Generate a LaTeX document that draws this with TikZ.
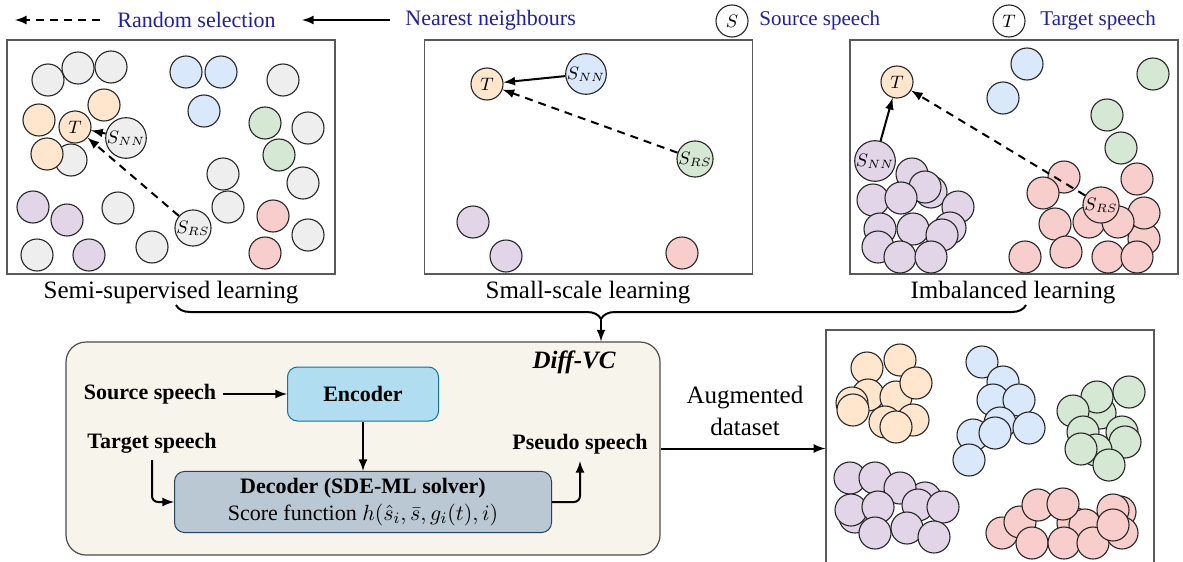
\documentclass[tikz,border=0pt]{standalone}
\usepackage{fontspec}
\setmainfont{Liberation Serif}
\usepackage{amsmath}
\usepackage{xcolor}
\usepackage{tikz}
\usetikzlibrary{arrows}
\usetikzlibrary{decorations.pathreplacing}

\definecolor{cgrey}{HTML}{EEEEEE}
\definecolor{corange}{HTML}{FFE6CC}
\definecolor{cblue}{HTML}{DAE8FC}
\definecolor{cgreen}{HTML}{D5E8D4}
\definecolor{cpurple}{HTML}{E1D5E7}
\definecolor{cred}{HTML}{F8CECC}
\definecolor{legblue}{RGB}{30,30,170}
\definecolor{diffbg}{HTML}{F7F4EC}
\definecolor{encfill}{HTML}{B1DDF0}
\definecolor{encline}{HTML}{10739E}
\definecolor{decfill}{HTML}{BAC8D3}
\definecolor{decline}{HTML}{23445D}

\tikzset{
  ball/.style={circle, draw=black!85, line width=0.55pt, minimum size=16pt, inner sep=0pt, font=\fontsize{9}{9}\selectfont},
  ballgrey/.style={ball, fill=cgrey},
  ballorange/.style={ball, fill=corange},
  ballblue/.style={ball, fill=cblue},
  ballgreen/.style={ball, fill=cgreen},
  ballpurple/.style={ball, fill=cpurple},
  ballred/.style={ball, fill=cred},
  panel/.style={rectangle, draw=black!65, line width=0.7pt, minimum width=164pt, minimum height=117pt, inner sep=0pt},
  nn/.style={-latex, line width=1pt},
  rs/.style={-latex, line width=1pt, dash pattern=on 4pt off 3pt},
  lbl/.style={font=\bfseries\fontsize{11}{13}\selectfont},
  captxt/.style={font=\fontsize{12.5}{15}\selectfont},
  legtxt/.style={anchor=west, inner sep=0pt, text=legblue, font=\fontsize{11}{13}\selectfont},
}

\begin{document}
\begin{tikzpicture}[x=0.5pt, y=-0.5pt]
\useasboundingbox (0,0) rectangle (1183,562);
\clip (0,0) rectangle (1183,562);

% legend
\coordinate (rs0) at (100,20);
\coordinate (rs1) at (15,20);
\draw [rs] (rs0) -- (rs1);
\node [legtxt] (legrs) at (117,20) {Random selection};
\coordinate (nn0) at (390,20);
\coordinate (nn1) at (302,20);
\draw [nn] (nn0) -- (nn1);
\node [legtxt] (legnn) at (405,20) {Nearest neighbours};
\node [ball, fill=white] (legS) at (732,21) {$S$};
\node [legtxt, font=\fontsize{10.5}{13}\selectfont] (legsrc) at (759,20) {Source speech};
\node [ball, fill=white] (legT) at (1009,21) {$T$};
\node [legtxt, font=\fontsize{10.5}{13}\selectfont] (legtgt) at (1040,20) {Target speech};

% panels
\node [panel] (p1) at (171,157) {};
\node [panel] (p2) at (588.5,157) {};
\node [panel] (p3) at (1014,157) {};
\node [captxt] (c1) at (171,293) {Semi-supervised learning};
\node [captxt] (c2) at (588,293) {Small-scale learning};
\node [captxt] (c3) at (1013,293) {Imbalanced learning};

% semi-supervised
\foreach \x/\y [count=\i] in {48/80, 78/68, 111/67, 283/80, 308/128, 71/160, 223/174, 228/207, 118/208, 37/255, 152/247, 303/183, 308/235}
  \node [ballgrey] (ga\i) at (\x,\y) {};
\foreach \x/\y [count=\i] in {39/120, 104/105, 47/154}
  \node [ballorange] (oa\i) at (\x,\y) {};
\foreach \x/\y [count=\i] in {186/72, 221/72, 204/111}
  \node [ballblue] (ba\i) at (\x,\y) {};
\foreach \x/\y [count=\i] in {265/123, 279/155}
  \node [ballgreen] (gna\i) at (\x,\y) {};
\foreach \x/\y [count=\i] in {33/207, 67/220, 89/255}
  \node [ballpurple] (pa\i) at (\x,\y) {};
\foreach \x/\y [count=\i] in {273/216, 265/253}
  \node [ballred] (ra\i) at (\x,\y) {};
\node [ballorange] (T1) at (75,127) {$T$};
\node [ballgrey] (NN1) at (126,138) {$S_{NN}$};
\node [ballgrey] (RS1) at (193,228) {$S_{RS}$};
\draw [nn] (NN1) to (T1);
\draw [rs] (RS1) to (T1);

% small-scale
\node [ballpurple] (pb1) at (473,222) {};
\node [ballpurple] (pb2) at (506,256) {};
\node [ballred] (rb1) at (682,253) {};
\node [ballorange] (T2) at (487,84) {$T$};
\node [ballblue] (NN2) at (586,74) {$S_{NN}$};
\node [ballgreen] (RS2) at (695,159) {$S_{RS}$};
\draw [nn] (NN2) to (T2);
\draw [rs] (RS2) to (T2);

% imbalanced
\foreach \x/\y [count=\i] in {1027/64, 1003/98}
  \node [ballblue] (bc\i) at (\x,\y) {};
\foreach \x/\y [count=\i] in {1153/74, 1107/115, 1121/148}
  \node [ballgreen] (gnc\i) at (\x,\y) {};
\foreach \x/\y [count=\i] in {1064/177, 1043/193, 1137/179, 1144/239, 1144/213, 1055/224, 1089/222, 1118/222, 1025/257, 1066/252, 1108/257, 1137/257}
  \node [ballred] (rc\i) at (\x,\y) {};
\foreach \x/\y [count=\i] in {912/174, 931/192, 925/187, 873/200, 901/198, 958/207, 880/229, 913/229, 950/228, 942/235, 878/247, 900/257, 931/257}
  \node [ballpurple] (pc\i) at (\x,\y) {};
\node [ballorange] (T3) at (897,82) {$T$};
\node [ballpurple] (NN3) at (875,161) {$S_{NN}$};
\node [ballred] (RS3) at (1101,205) {$S_{RS}$};
\draw [nn] (NN3) to (T3);
\draw [rs] (RS3) to (T3);

% brace to Diff-VC
\coordinate (bl) at (176,305);
\coordinate (br) at (1026,305);
\draw [line width=1pt, decorate, decoration={brace, mirror, amplitude=7pt}] (bl) -- (br);
\coordinate (bt) at (601,319);

% Diff-VC
\node [rectangle, rounded corners=10pt, fill=diffbg, draw=black!70, line width=0.6pt, minimum width=297pt, minimum height=106.5pt] (diffvc) at (363,448.5) {};
\draw [nn] (bt) -- (bt |- diffvc.north);
\node [font=\bfseries\itshape\fontsize{12.5}{15}\selectfont] (dvc) at (574,362) {Diff-VC};
\node [rectangle, rounded corners=5pt, fill=encfill, draw=encline, line width=0.5pt, minimum width=75.5pt, minimum height=27pt, lbl] (enc) at (363,394) {Encoder};
\node [rectangle, rounded corners=5pt, fill=decfill, draw=decline, line width=0.5pt, minimum width=188.5pt, minimum height=30pt, align=center, font=\fontsize{11}{13.5}\selectfont] (dec) at (363,502) {\textbf{Decoder (SDE-ML solver)}\\Score function $h(\hat{s}_i, \bar{s}, g_i(t), i)$};
\node [lbl] (src) at (150,394) {Source speech};
\node [lbl] (tgt) at (152,443) {Target speech};
\node [lbl] (pse) at (580,444) {Pseudo speech};
\draw [nn] (src) -- (enc);
\draw [nn] (enc) -- (dec);
\draw [nn, rounded corners=3pt] (tgt.south) |- (dec.west);
\draw [nn, rounded corners=3pt] (dec.east) -| (pse.south);

% augmented dataset
\node [panel, minimum height=135pt] (aug) at (990,465) {};
\draw [nn] (diffvc.east) -- (diffvc.east -| aug.west);
\node [align=center, font=\fontsize{12.5}{16}\selectfont] (augtxt) at (745,411) {Augmented\\dataset};
\foreach \x/\y [count=\i] in {867/368, 900/360, 868/395, 852/403, 896/397, 916/383, 913/420, 885/422, 853/410, 896/427}
  \node [ballorange] (od\i) at (\x,\y) {};
\foreach \x/\y [count=\i] in {982/362, 1003/382, 993/400, 1019/400, 1000/423, 973/435, 995/433, 1029/428, 969/460}
  \node [ballblue] (bd\i) at (\x,\y) {};
\foreach \x/\y [count=\i] in {1100/413, 1097/397, 1129/392, 1073/411, 1083/432, 1122/432, 1125/442, 1096/450, 1081/449, 1109/465}
  \node [ballgreen] (gnd\i) at (\x,\y) {};
\foreach \x/\y [count=\i] in {850/478, 875/478, 925/498, 900/488, 855/517, 851/510, 878/507, 918/505, 943/507, 875/533, 907/528, 934/537}
  \node [ballpurple] (pd\i) at (\x,\y) {};
\foreach \x/\y [count=\i] in {1002/533, 1020/522, 1038/505, 1073/523, 1085/525, 1063/504, 1032/543, 1064/543, 1093/543, 1120/512, 1113/510, 1122/533, 1113/525}
  \node [ballred] (rd\i) at (\x,\y) {};
\end{tikzpicture}
\end{document}
